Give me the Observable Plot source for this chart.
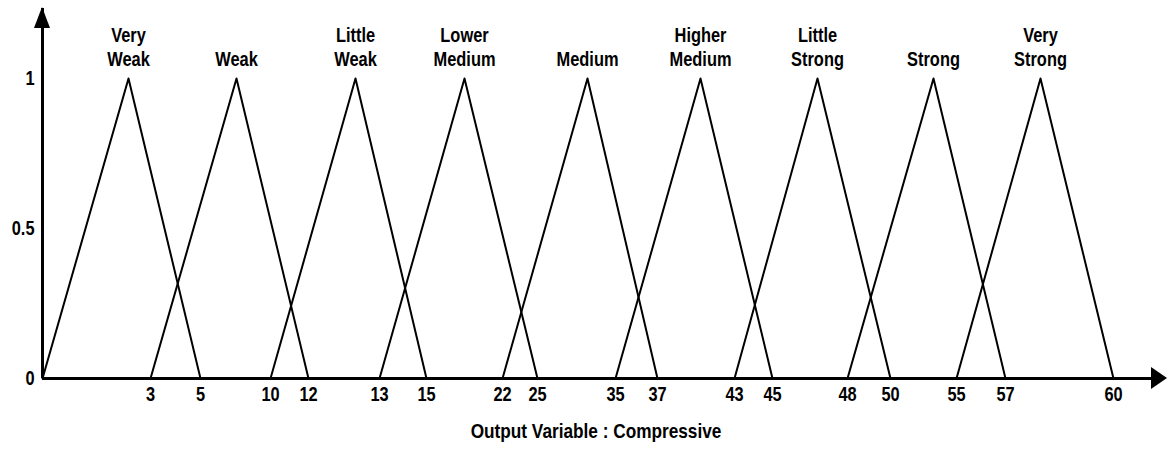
<!DOCTYPE html>
<html>
<head>
<meta charset="utf-8">
<script src="https://cdn.jsdelivr.net/npm/d3@7"></script>
<script src="https://cdn.jsdelivr.net/npm/@observablehq/plot@0.6"></script>
<style>
  html, body { margin: 0; padding: 0; background: #fff; }
</style>
</head>
<body>
<div id="chart"></div>
<script>
// ---- data ----
const categories = ["Very\nWeak", "Weak", "Little\nWeak", "Lower\nMedium", "Medium", "Higher\nMedium", "Little\nStrong", "Strong", "Very\nStrong"];
const starts = [0, 3, 10, 13, 22, 35, 43, 48, 55];
const peaks  = [2.5, 7.5, 12.5, 19, 29.5, 40, 46.5, 52.5, 57.5];
const ends   = [5, 12, 15, 25, 37, 45, 50, 57, 60];
const xTicks = [3, 5, 10, 12, 13, 15, 22, 25, 35, 37, 43, 45, 48, 50, 55, 57, 60];
const yTicks = [0, 0.5, 1];
const caption = "Output Variable : Compressive";

// ---- layout ----
const W = 1167, H = 454;
const font = '"Liberation Sans", Arial, sans-serif';
// the hand-drawn axis is not linear: piecewise mapping of the breakpoints
const xBreaks = Array.from(new Set([...starts, ...peaks, ...ends])).sort((a, b) => a - b);
const xScaleOptions = {
  type: "linear",
  domain: xBreaks,
  range: [42, 128, 150, 200, 236, 270, 308, 355, 379, 426, 464, 502, 537, 587, 615, 657, 700, 734, 772, 817, 847, 890, 933, 956, 1005, 1040, 1113],
  ticks: xTicks, tickSize: 0, tickPadding: 8, tickFormat: d => String(d), label: null
};

const tri = categories.flatMap((c, i) => [
  {c, x: starts[i], y: 0},
  {c, x: peaks[i], y: 1},
  {c, x: ends[i], y: 0}
]);

const plot = Plot.plot({
  width: W, height: H,
  marginLeft: 42, marginRight: 10, marginTop: 78, marginBottom: 76,
  style: {fontFamily: font, fontSize: "20px", fontWeight: "bold", color: "black", background: "white", overflow: "visible"},
  x: xScaleOptions,
  y: {domain: [0, 1], ticks: yTicks, tickSize: 0, tickPadding: 8, tickFormat: d => String(d), label: null},
  marks: [
    Plot.line(tri, {x: "x", y: "y", z: "c", stroke: "black", strokeWidth: 2}),
    Plot.ruleY([0], {stroke: "black", strokeWidth: 3}),
    Plot.ruleX([0], {stroke: "black", strokeWidth: 3, insetTop: -70}),
    Plot.text(categories, {x: (d, i) => peaks[i], y: 1, text: d => d, lineAnchor: "bottom", dy: -13, lineHeight: 1.2, fontSize: 20, fontWeight: "bold"}),
    Plot.text([caption], {frameAnchor: "bottom", dy: 59, dx: -4, fontSize: 21, fontWeight: "bold"})
  ]
});

// arrowheads on the two axes, placed from the scales
const svg = d3.select(plot);
const x0 = plot.scale("x").apply(0), y0 = plot.scale("y").apply(0);
svg.append("path").attr("d", `M${x0},7L${x0 - 8},28L${x0 + 8},28Z`).attr("fill", "black");
svg.append("path").attr("d", `M${W},${y0}L${W - 16},${y0 - 11}L${W - 16},${y0 + 11}Z`).attr("fill", "black");

document.getElementById("chart").appendChild(plot);

// narrow (condensed) lettering like the reference: compress glyphs horizontally
svg.selectAll("text").each(function () {
  const spans = this.querySelectorAll("tspan");
  const els = spans.length ? Array.from(spans) : [this];
  for (const el of els) {
    const w = el.getComputedTextLength();
    if (w > 0) {
      el.setAttribute("textLength", (w * 0.82).toFixed(1));
      el.setAttribute("lengthAdjust", "spacingAndGlyphs");
    }
  }
});
</script>
</body>
</html>
